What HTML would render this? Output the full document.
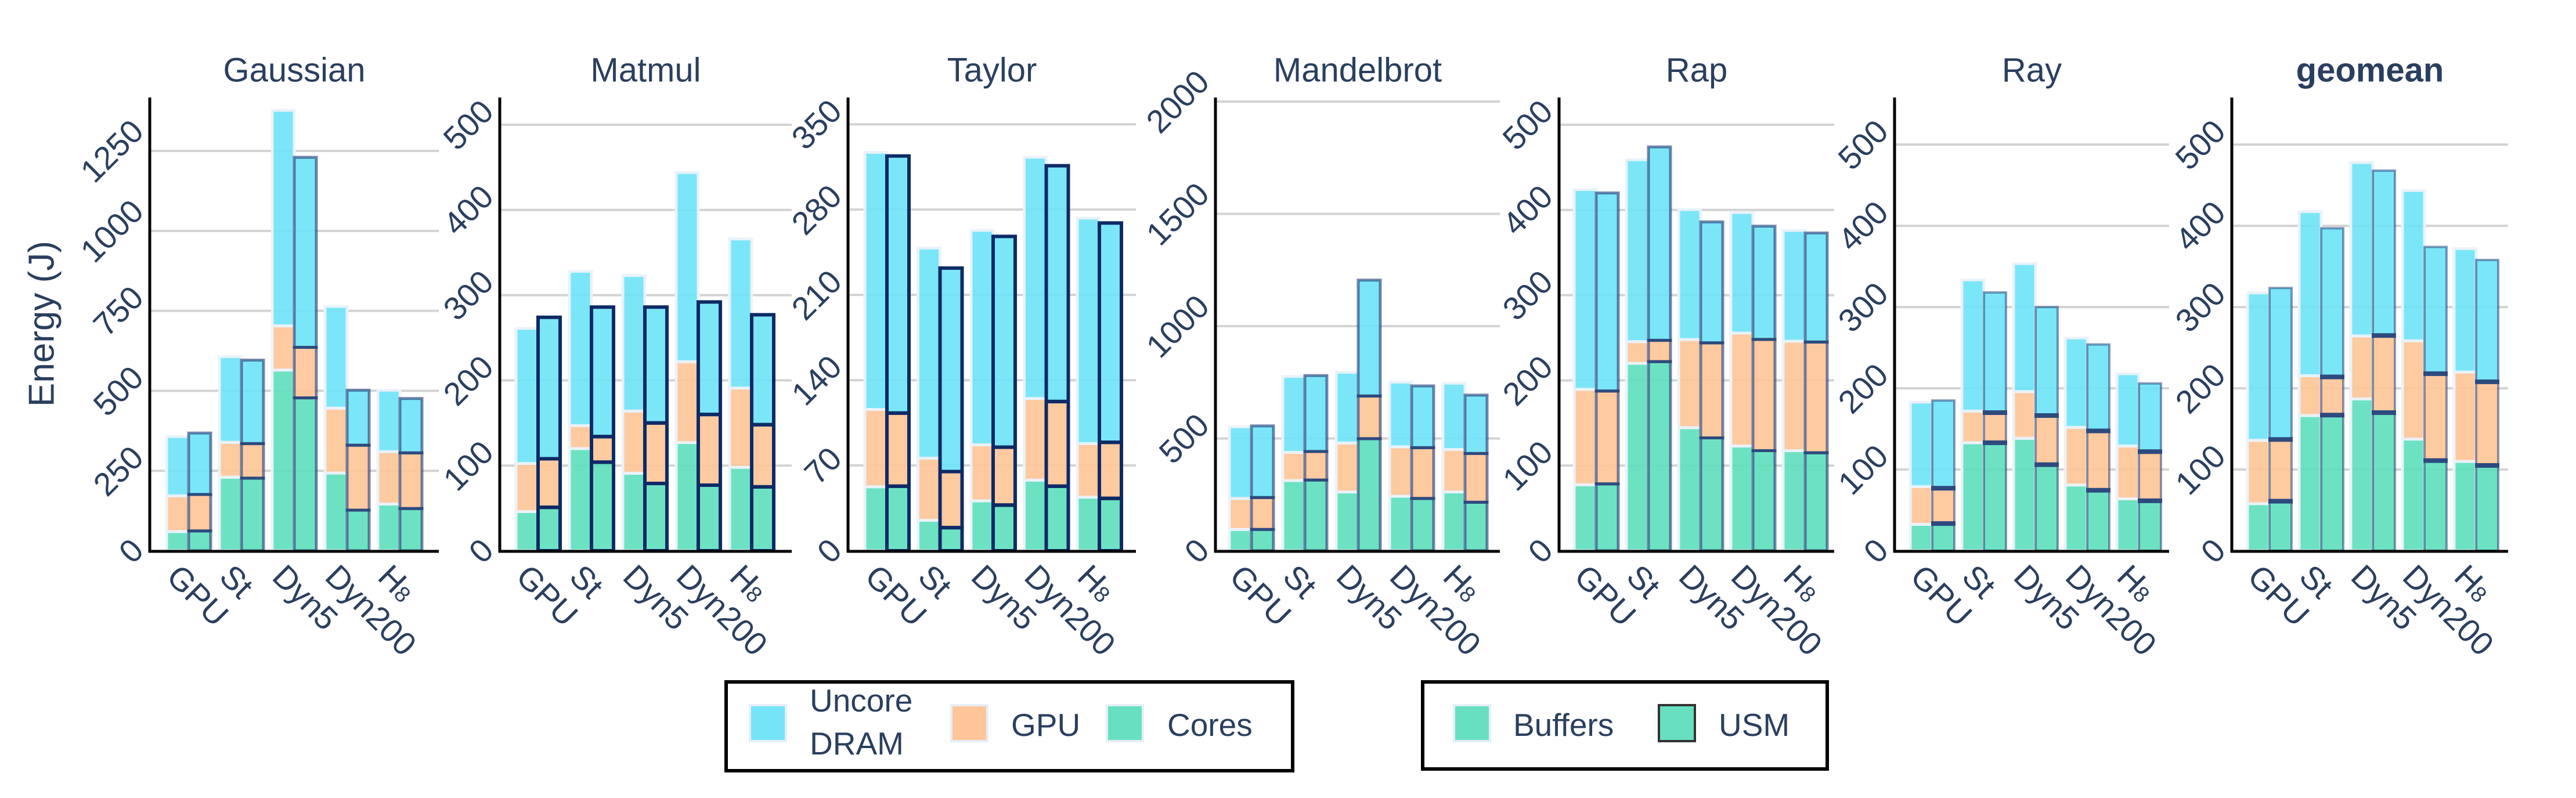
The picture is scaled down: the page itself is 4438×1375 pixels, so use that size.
<!DOCTYPE html>
<html><head><meta charset="utf-8"><title>Energy chart</title>
<style>html,body{margin:0;padding:0;background:#fff}svg{display:block}text{font-family:"Liberation Sans",sans-serif;fill:#2a3f5f}</style>
</head><body>
<svg id="chart" xmlns="http://www.w3.org/2000/svg" width="4438" height="1375" viewBox="0 0 4438 1375">
<rect x="0" y="0" width="4438" height="1375" fill="#fff"/>
<text x="72" y="558" font-size="62" text-anchor="middle" dominant-baseline="central" transform="rotate(-90 72 558)">Energy (J)</text>
<g>
<rect x="1251" y="1175" width="976" height="153" fill="#fff" stroke="#000" stroke-width="6"/>
<rect x="1292" y="1215" width="62" height="62" fill="#75e4f7" stroke="#e6eef8" stroke-width="4"/>
<text x="1395" y="1226" font-size="55">Uncore</text>
<text x="1395" y="1300" font-size="55">DRAM</text>
<rect x="1639" y="1215" width="62" height="62" fill="#fec699" stroke="#e6eef8" stroke-width="4"/>
<text x="1742" y="1268" font-size="55">GPU</text>
<rect x="1907" y="1215" width="62" height="62" fill="#67e0c1" stroke="#e6eef8" stroke-width="4"/>
<text x="2011" y="1268" font-size="55">Cores</text>
</g>
<g>
<rect x="2451" y="1175" width="697" height="150" fill="#fff" stroke="#000" stroke-width="6"/>
<rect x="2505" y="1215" width="62" height="62" fill="#67e0c1" stroke="#e6eef8" stroke-width="4"/>
<text x="2607" y="1268" font-size="55">Buffers</text>
<rect x="2858" y="1215" width="62" height="62" fill="#67e0c1" stroke="#333" stroke-width="4"/>
<text x="2961" y="1268" font-size="55">USM</text>
</g>
</svg>
<script>
const categories = ['GPU','St','Dyn5','Dyn200','H8'];

const gaussianTicks = [0,250,500,750,1000,1250];
const gaussianBufCores = [60,230,565,243,146];
const gaussianBufGpu = [112,109,138,203,164];
const gaussianBufUncore = [185,268,674,318,192];
const gaussianUsmCores = [62,227,478,127,132];
const gaussianUsmGpu = [114,108,158,203,174];
const gaussianUsmUncore = [192,261,594,172,170];

const matmulTicks = [0,100,200,300,400,500];
const matmulBufCores = [46,120,91,127,98];
const matmulBufGpu = [56.5,27,73,95,93];
const matmulBufUncore = [158.5,181,159,222,175];
const matmulUsmCores = [51,104,79,77,75];
const matmulUsmGpu = [57,30,71,83,73];
const matmulUsmUncore = [166,152,136,132,129];

const taylorTicks = [0,70,140,210,280,350];
const taylorBufCores = [52.5,25,41,58,44];
const taylorBufGpu = [63.5,51,46,67,44];
const taylorBufUncore = [211,172.5,176,198,185];
const taylorUsmCores = [53,19,37.5,53,43];
const taylorUsmGpu = [60,46,47.5,69.5,46];
const taylorUsmUncore = [211,167,173,193.5,180];

const mandelTicks = [0,500,1000,1500,2000];
const mandelBufCores = [95,313,262,243,262];
const mandelBufGpu = [138,125,218,220,189];
const mandelBufUncore = [319,338,315,288,295];
const mandelUsmCores = [95,315,499,233,216];
const mandelUsmGpu = [142,127,190,226,217];
const mandelUsmUncore = [319,338,516,275,260];

const rapTicks = [0,100,200,300,400,500];
const rapBufCores = [77.5,220,144.5,123,117.5];
const rapBufGpu = [112,25.5,103.5,132.5,128.5];
const rapBufUncore = [234.5,213.5,152.5,141.5,130];
const rapUsmCores = [78.5,222,132.5,117.5,115];
const rapUsmGpu = [109,25,111.5,130.5,130];
const rapUsmUncore = [232.5,227,142,133,128];

const rayTicks = [0,100,200,300,400,500];
const rayBufCores = [32.5,133,138.5,81,64];
const rayBufGpu = [46.5,39,57.5,71,65];
const rayBufUncore = [104,161.5,157.5,110,89];
const rayUsmCores = [33.5,133,106,74.5,61.5];
const rayUsmGpu = [43.5,37,60.5,73,60.5];
const rayUsmUncore = [108,148,133.5,106.5,84];

const geoTicks = [0,100,200,300,400,500];
const geoBufCores = [58,166.5,187,137.5,110];
const geoBufGpu = [78,49,77.5,121,110];
const geoBufUncore = [181.5,202,213.5,185,152];
const geoUsmCores = [61,167,170,111,105];
const geoUsmGpu = [76,47,95,107,103];
const geoUsmUncore = [186.5,183,203,156,150];

const NS = 'http://www.w3.org/2000/svg';
const svg = document.getElementById('chart');
const TOP = 168, BASE = 949;
const COLORS = ['#5ddfbd','#fec496','#6de3f7'];
const SEG = ['cores','gpu','uncore'];

const panels = [
  {key:'gaussian', title:'Gaussian', x0:258, x1:756, first:326, step:91, ymax:1417, ticks:gaussianTicks,
   buf:[gaussianBufCores,gaussianBufGpu,gaussianBufUncore], usm:[gaussianUsmCores,gaussianUsmGpu,gaussianUsmUncore], sc:'rgba(30,55,115,0.6)', sw:5, cap:5},
  {key:'matmul', title:'Matmul', x0:861, x1:1364, first:928, step:92, ymax:532, ticks:matmulTicks,
   buf:[matmulBufCores,matmulBufGpu,matmulBufUncore], usm:[matmulUsmCores,matmulUsmGpu,matmulUsmUncore], sc:'#0e2a66', sw:6, cap:6},
  {key:'taylor', title:'Taylor', x0:1461, x1:1957, first:1529, step:91.5, ymax:372, ticks:taylorTicks,
   buf:[taylorBufCores,taylorBufGpu,taylorBufUncore], usm:[taylorUsmCores,taylorUsmGpu,taylorUsmUncore], sc:'#0e2a66', sw:6, cap:6},
  {key:'mandelbrot', title:'Mandelbrot', x0:2094, x1:2584, first:2157, step:92, ymax:2018, ticks:mandelTicks,
   buf:[mandelBufCores,mandelBufGpu,mandelBufUncore], usm:[mandelUsmCores,mandelUsmGpu,mandelUsmUncore], sc:'rgba(30,55,115,0.6)', sw:5, cap:5},
  {key:'rap', title:'Rap', x0:2686, x1:3160, first:2751, step:90, ymax:532, ticks:rapTicks,
   buf:[rapBufCores,rapBufGpu,rapBufUncore], usm:[rapUsmCores,rapUsmGpu,rapUsmUncore], sc:'rgba(30,55,115,0.6)', sw:5, cap:5},
  {key:'ray', title:'Ray', x0:3264, x1:3737, first:3330, step:89, ymax:558, ticks:rayTicks,
   buf:[rayBufCores,rayBufGpu,rayBufUncore], usm:[rayUsmCores,rayUsmGpu,rayUsmUncore], sc:'rgba(30,55,115,0.5)', sw:4, cap:8},
  {key:'geomean', title:'geomean', x0:3845, x1:4321, first:3911, step:89, ymax:558, ticks:geoTicks, bold:true,
   buf:[geoBufCores,geoBufGpu,geoBufUncore], usm:[geoUsmCores,geoUsmGpu,geoUsmUncore], sc:'rgba(30,55,115,0.5)', sw:4, cap:8}
];

function mk(tag, attrs, parent){
  const e = document.createElementNS(NS, tag);
  for (const k in attrs) e.setAttribute(k, attrs[k]);
  parent.appendChild(e);
  return e;
}

panels.forEach(p => {
  const g = mk('g', {}, svg);
  
  
  const yScale = v => BASE - v * (BASE - TOP) / p.ymax;
  const xScale = i => p.first + i * p.step;

  const t = mk('text', {x:(p.x0+p.x1)/2, y:121, 'font-size':58, 'text-anchor':'middle', 'dominant-baseline':'central', 'font-weight': p.bold ? 'bold' : 'normal'}, g);
  t.textContent = p.title;
  
  

  p.ticks.forEach(v => {
    const y = yScale(v);
    if (v > 0) {
      const gl = mk('line', {x1:p.x0, x2:p.x1, y1:y, y2:y, stroke:'#d3d3d3', 'stroke-width':4}, g);
      
      
    }
    const s = String(v);
    const L = s.length * 31;
    const cx = p.x0 - 8 - (L + 38) * 0.354;
    const tl = mk('text', {x:cx, y:y, 'font-size':56, 'text-anchor':'middle', 'dominant-baseline':'central', transform:'rotate(-45 '+cx+' '+y+')'}, g);
    tl.textContent = s;
    
    
  });

  [['buf', 'rgba(235,242,250,0.95)', 5], ['usm', p.sc, p.sw]].forEach(([series, stroke, sw], si) => {
    const arrs = p[series];
    categories.forEach((c, i) => {
      const cx = xScale(i);
      const bx = si === 0 ? cx - 39 : cx - 1;
      const bw = 38;
      let acc = 0;
      for (let k = 0; k < 3; k++) {
        const v = arrs[k][i];
        const yTop = yScale(acc + v), yBot = yScale(acc);
        const r = mk('rect', {x:bx, y:yTop, width:bw, height:yBot - yTop, fill:COLORS[k], 'fill-opacity':0.9, stroke:stroke, 'stroke-width':sw}, g);
        
        
        acc += v;
      }
      if (si === 1) {
        let a2 = 0;
        for (let k = 0; k < 2; k++) {
          a2 += arrs[k][i];
          const yy = yScale(a2);
          const ln = mk('line', {x1:bx - sw/2, x2:bx + bw + sw/2, y1:yy, y2:yy, stroke: p.sw === 6 ? '#0e2a66' : '#2d4a7e', 'stroke-width':p.cap}, g);
          
          
        }
      }
    });
  });

  const ax = mk('line', {x1:p.x0, x2:p.x0, y1:TOP, y2:BASE + 3, stroke:'#000', 'stroke-width':5}, g);
  
  
  const bl = mk('line', {x1:p.x0 - 2, x2:p.x1, y1:BASE + 1, y2:BASE + 1, stroke:'#000', 'stroke-width':5}, g);
  
  

  categories.forEach((c, i) => {
    const px = xScale(i) - 28, py = BASE + 34;
    const xt = mk('text', {x:px, y:py, 'font-size':56, 'text-anchor':'start', 'dominant-baseline':'central', transform:'rotate(45 '+px+' '+py+')'}, g);
    if (c === 'H8') {
      xt.textContent = 'H';
      const sub = mk('tspan', {'font-size':38, dy:8}, xt);
      sub.textContent = '8';
    } else {
      xt.textContent = c;
    }
    
    
  });
});
</script>
</body></html>
